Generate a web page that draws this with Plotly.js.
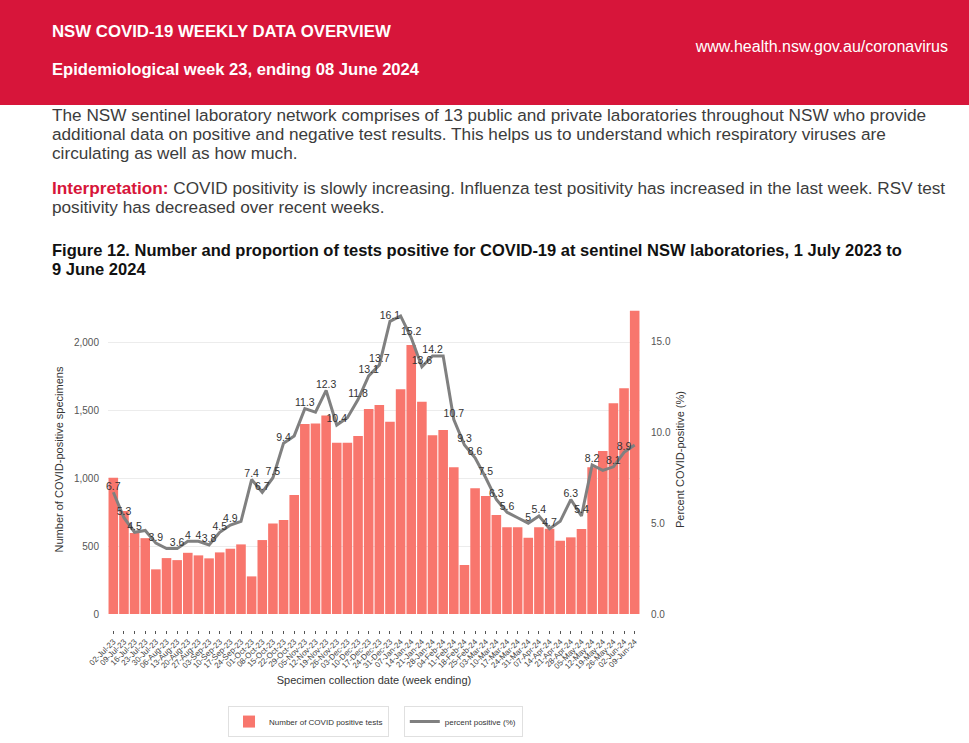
<!DOCTYPE html>
<html>
<head>
<meta charset="utf-8">
<script src="https://cdn.plot.ly/plotly-3.0.1.min.js"></script>
<style>
  html, body { margin:0; padding:0; width:969px; height:743px; overflow:hidden; background:#fff; font-family:"Liberation Sans", Arial, sans-serif; }
  #header { position:absolute; left:0; top:0; width:969px; height:105px; background:#D7153A; }
  .h { position:absolute; color:#fff; white-space:nowrap; }
  #h1 { left:52px; top:22px; font-size:16.8px; font-weight:bold; }
  #h2 { left:52px; top:60px; font-size:16.6px; font-weight:bold; }
  #url { right:21px; top:38px; font-size:16px; }
  .p { position:absolute; left:52px; width:905px; color:#3c3c3c; font-size:17.2px; line-height:18.8px; }
  #p1 { top:106px; }
  #p2 { top:179px; }
  .red { color:#D7153A; font-weight:bold; }
  #cap { position:absolute; left:52px; top:241px; width:860px; font-size:16.5px; font-weight:bold; line-height:19px; color:#111; }
  #chart { position:absolute; left:0; top:290px; width:720px; height:453px; }
</style>
</head>
<body>
<div id="header">
  <div class="h" id="h1">NSW COVID-19 WEEKLY DATA OVERVIEW</div>
  <div class="h" id="h2">Epidemiological week 23, ending 08 June 2024</div>
  <div class="h" id="url">www.health.nsw.gov.au/coronavirus</div>
</div>
<div class="p" id="p1">The NSW sentinel laboratory network comprises of 13 public and private laboratories throughout NSW who provide additional data on positive and negative test results. This helps us to understand which respiratory viruses are circulating as well as how much.</div>
<div class="p" id="p2"><span class="red">Interpretation:</span> COVID positivity is slowly increasing. Influenza test positivity has increased in the last week. RSV test positivity has decreased over recent weeks.</div>
<div id="cap">Figure 12. Number and proportion of tests positive for COVID-19 at sentinel NSW laboratories, 1 July 2023 to 9 June 2024</div>
<div id="chart"></div>
<script>
const weeks = ['02-Jul-23','09-Jul-23','16-Jul-23','23-Jul-23','30-Jul-23','06-Aug-23','13-Aug-23','20-Aug-23','27-Aug-23','03-Sep-23',
  '10-Sep-23','17-Sep-23','24-Sep-23','01-Oct-23','08-Oct-23','15-Oct-23','22-Oct-23','29-Oct-23','05-Nov-23','12-Nov-23',
  '19-Nov-23','26-Nov-23','03-Dec-23','10-Dec-23','17-Dec-23','24-Dec-23','31-Dec-23','07-Jan-24','14-Jan-24','21-Jan-24',
  '28-Jan-24','04-Feb-24','11-Feb-24','18-Feb-24','25-Feb-24','03-Mar-24','10-Mar-24','17-Mar-24','24-Mar-24','31-Mar-24',
  '07-Apr-24','14-Apr-24','21-Apr-24','28-Apr-24','05-May-24','12-May-24','19-May-24','26-May-24','02-Jun-24','09-Jun-24'];

const positiveTests = [1005,760,598,560,330,413,398,452,433,411,
  455,482,514,278,546,669,694,878,1402,1405,
  1464,1264,1264,1313,1513,1543,1419,1658,1985,1567,
  1319,1358,1083,362,928,871,731,640,640,563,
  640,630,541,566,627,1083,1203,1555,1666,2238];

const percentPositive = [6.7,5.3,4.5,4.6,3.9,3.6,3.6,4.0,4.0,3.8,
  4.5,4.9,5.1,7.4,6.7,7.5,9.4,9.8,11.3,11.1,
  12.3,10.4,10.8,11.8,13.1,13.7,16.1,16.4,15.2,13.6,
  14.2,14.2,10.7,9.3,8.6,7.5,6.3,5.6,5.3,5.0,
  5.4,4.7,5.1,6.3,5.4,8.2,7.9,8.1,8.9,9.3];

// weeks (1-based) whose value label is not printed in the reference
const unlabeledWeeks = [4,6,13,18,20,23,28,32,39,43,47,50];

const pctText = percentPositive.map((v, i) => unlabeledWeeks.includes(i + 1) ? '' : String(v));

const FONT = '"Liberation Sans", Arial, sans-serif';

const traces = [
  {
    type:'bar', x:weeks, y:positiveTests, name:'Number of COVID positive tests',
    marker:{color:'#F8766D'}, legend:'legend'
  },
  {
    type:'scatter', mode:'lines+text', x:weeks, y:percentPositive, yaxis:'y2',
    name:'percent positive (%)', line:{color:'#808080', width:3},
    text:pctText, textposition:'top center', textfont:{size:10.5, color:'#333', family:FONT},
    legend:'legend2', cliponaxis:false
  }
];

const layout = {
  width:720, height:453,
  margin:{l:108, r:80, t:15, b:113, autoexpand:false},
  paper_bgcolor:'rgba(0,0,0,0)', plot_bgcolor:'rgba(0,0,0,0)',
  font:{family:FONT, color:'#444'},
  bargap:0.1,
  showlegend:true,
  xaxis:{
    type:'category', anchor:'free', position:0, automargin:false,
    range:[-0.5, weeks.length - 0.5],
    tickmode:'array', tickvals:weeks, ticktext:weeks,
    tickangle:-45, tickfont:{size:8, color:'#444'},
    ticks:'outside', ticklen:3, tickcolor:'#555', showline:false, showgrid:false,
    title:{text:'Specimen collection date (week ending)', font:{size:11, color:'#333'}, standoff:6}
  },
  yaxis:{
    domain:[0.049, 1], range:[0, 2280], tickvals:[0,500,1000,1500,2000], tickformat:',',
    automargin:false, ticklabelstandoff:8,
    tickfont:{size:10, color:'#555'}, gridcolor:'#ececec', zeroline:false, showline:false,
    title:{text:'Number of COVID-positive specimens', font:{size:11, color:'#333'}, standoff:8}
  },
  yaxis2:{
    overlaying:'y', side:'right', range:[0, 17.0], tickvals:[0,5,10,15], tickformat:'.1f',
    automargin:false, ticklabelstandoff:10,
    tickfont:{size:10, color:'#555'}, showgrid:false, zeroline:false, showline:false,
    title:{text:'Percent COVID-positive (%)', font:{size:11, color:'#333'}, standoff:6}
  },
  legend:{
    x:0.2256, y:-0.234, xanchor:'left', yanchor:'top', orientation:'h',
    bordercolor:'#e0e0e0', borderwidth:1, bgcolor:'#fff', font:{size:8, color:'#333'}
  },
  legend2:{
    x:0.556, y:-0.234, xanchor:'left', yanchor:'top', orientation:'h',
    bordercolor:'#e0e0e0', borderwidth:1, bgcolor:'#fff', font:{size:8, color:'#333'}
  }
};

Plotly.newPlot('chart', traces, layout, {displayModeBar:false, staticPlot:true});
</script>
</body>
</html>
